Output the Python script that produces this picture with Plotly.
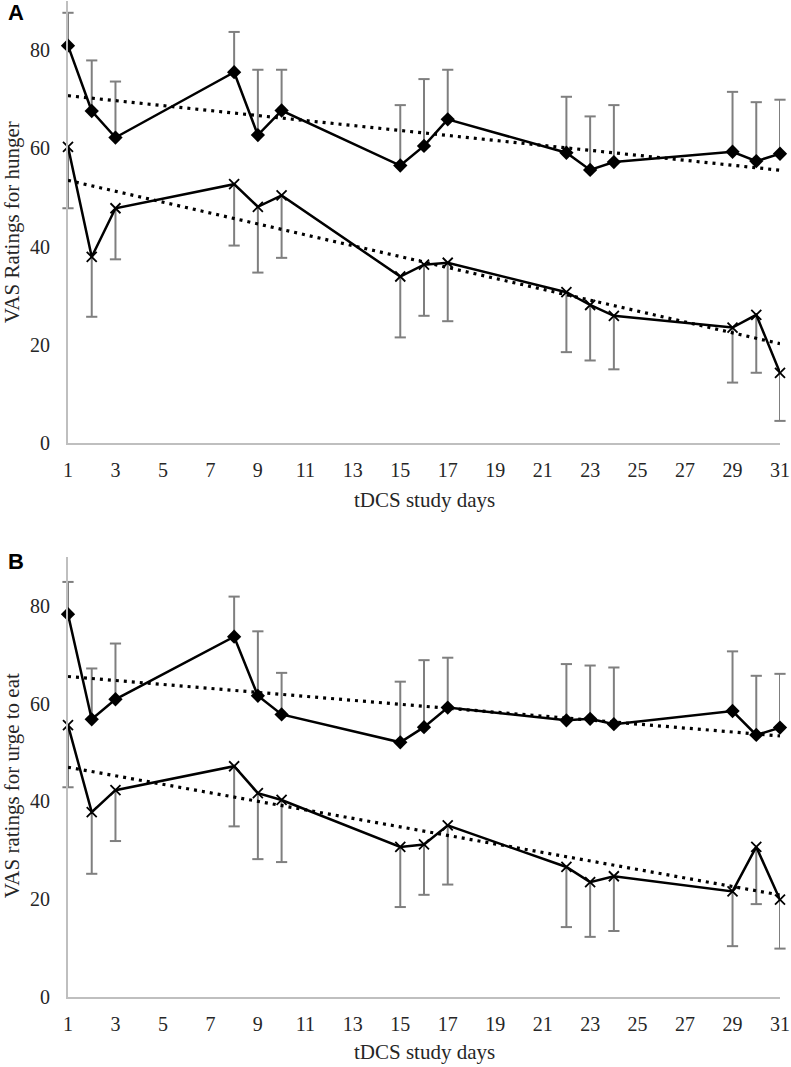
import numpy as np
import plotly.graph_objects as go

# ---------------- data ----------------
days = [1, 2, 3, 8, 9, 10, 15, 16, 17, 22, 23, 24, 29, 30, 31]
x_ticks = list(range(1, 32, 2))
y_ticks = [0, 20, 40, 60, 80]

# Panel A: VAS ratings for hunger
hunger_diamond = [80.9, 67.6, 62.2, 75.5, 62.7, 67.7, 56.5, 60.5, 65.9, 59.1, 55.6, 57.2, 59.3, 57.4, 58.9]
hunger_diamond_err = [6.7, 10.3, 11.4, 8.2, 13.3, 8.3, 12.3, 13.6, 10.1, 11.4, 10.9, 11.6, 12.2, 12.0, 11.0]
hunger_cross = [60.3, 37.9, 47.8, 52.7, 48.1, 50.4, 33.9, 36.3, 36.7, 30.7, 28.1, 25.9, 23.5, 26.1, 14.3]
hunger_cross_err = [12.5, 12.2, 10.4, 12.5, 13.4, 12.7, 12.4, 10.4, 11.9, 12.2, 11.3, 10.9, 11.2, 11.8, 9.8]

# Panel B: VAS ratings for urge to eat
urge_diamond = [78.3, 56.8, 60.9, 73.7, 61.6, 57.8, 52.1, 55.2, 59.2, 56.6, 56.9, 55.8, 58.5, 53.6, 55.1]
urge_diamond_err = [6.6, 10.4, 11.4, 8.2, 13.2, 8.5, 12.4, 13.7, 10.2, 11.5, 10.9, 11.6, 12.2, 12.1, 11.0]
urge_cross = [55.6, 37.8, 42.3, 47.2, 41.7, 40.3, 30.7, 31.2, 35.1, 26.6, 23.5, 24.7, 21.6, 30.7, 19.9]
urge_cross_err = [12.7, 12.6, 10.4, 12.3, 13.5, 12.7, 12.3, 10.3, 12.1, 12.3, 11.2, 11.2, 11.2, 11.7, 10.0]

panel_labels = ["A", "B"]
y_titles = ["VAS Ratings for hunger", "VAS ratings for urge to eat"]
x_title = "tDCS study days"

# ---------------- style ----------------
SERIF = "Liberation Serif, Times New Roman, serif"
ERR_COLOR = "#7f7f7f"
AXIS_COLOR = "#bfbfbf"

fig = go.Figure()


def add_series(xa, ya, values, errs, kind):
    v = np.array(values)
    e = np.array(errs)
    zeros = [0] * len(values)
    if kind == "diamond":
        ey = dict(type="data", symmetric=False, array=list(e), arrayminus=zeros,
                  color=ERR_COLOR, thickness=2, width=0)
        caps = v + e
    else:
        ey = dict(type="data", symmetric=False, array=zeros, arrayminus=list(e),
                  color=ERR_COLOR, thickness=2, width=0)
        caps = v - e
    # vertical error lines
    fig.add_trace(go.Scatter(x=days, y=values, mode="markers", xaxis=xa, yaxis=ya,
                             marker=dict(size=1, color="rgba(0,0,0,0)"),
                             error_y=ey, showlegend=False, hoverinfo="skip",
                             cliponaxis=False))
    # error caps
    fig.add_trace(go.Scatter(x=days, y=list(caps), mode="markers", xaxis=xa, yaxis=ya,
                             marker=dict(symbol="line-ew", size=8,
                                         line=dict(width=2, color=ERR_COLOR)),
                             showlegend=False, hoverinfo="skip", cliponaxis=False))
    # linear trend line
    slope, intercept = np.polyfit(days, values, 1)
    tx = [days[0], days[-1]]
    ty = [slope * t + intercept for t in tx]
    fig.add_trace(go.Scatter(x=tx, y=ty, mode="lines", xaxis=xa, yaxis=ya,
                             line=dict(color="black", width=3.2, dash="3px,5px"),
                             showlegend=False, hoverinfo="skip"))
    # data line
    if kind == "diamond":
        mk = dict(symbol="diamond", size=11, color="black")
    else:
        mk = dict(symbol="x-thin", size=10, color="black",
                  line=dict(width=1.8, color="black"))
    fig.add_trace(go.Scatter(x=days, y=values, mode="lines+markers", xaxis=xa, yaxis=ya,
                             line=dict(color="black", width=2.5), marker=mk,
                             showlegend=False, cliponaxis=False))


add_series("x", "y", hunger_diamond, hunger_diamond_err, "diamond")
add_series("x", "y", hunger_cross, hunger_cross_err, "cross")
add_series("x2", "y2", urge_diamond, urge_diamond_err, "diamond")
add_series("x2", "y2", urge_cross, urge_cross_err, "cross")

W, H = 791, 1067
ML, MR, MT, MB = 68, 9, 1, 70
plot_w = W - ML - MR
plot_h = H - MT - MB


def py(pix):
    return (H - MB - pix) / plot_h


def px(pix):
    return (pix - ML) / plot_w


xaxis_common = dict(range=[1, 31], tickmode="array", tickvals=x_ticks,
                    ticktext=[str(t) for t in x_ticks],
                    showline=True, linecolor=AXIS_COLOR, linewidth=2,
                    showgrid=False, zeroline=False, ticklabeloverflow="allow",
                    ticks="outside", ticklen=8, tickcolor="rgba(0,0,0,0)",
                    tickfont=dict(family=SERIF, size=20, color="#262626"))
yaxis_common = dict(range=[0, 90], tickmode="array", tickvals=y_ticks,
                    showline=True, linecolor=AXIS_COLOR, linewidth=2,
                    showgrid=False, zeroline=False,
                    ticks="outside", ticklen=12, tickcolor="rgba(0,0,0,0)",
                    tickfont=dict(family=SERIF, size=20, color="#262626"))

top_dom = [py(443), 1.0]
bot_dom = [0.0, py(557)]

fig.update_layout(
    width=W, height=H,
    margin=dict(l=ML, r=MR, t=MT, b=MB),
    paper_bgcolor="white", plot_bgcolor="white",
    xaxis=dict(xaxis_common, anchor="y"),
    yaxis=dict(yaxis_common, domain=top_dom, anchor="x"),
    xaxis2=dict(xaxis_common, anchor="y2"),
    yaxis2=dict(yaxis_common, domain=bot_dom, anchor="x2"),
)

annotations = []
for i, (lab, ytitle) in enumerate(zip(panel_labels, y_titles)):
    top_pix = 12 if i == 0 else 561
    annotations.append(dict(text="<b>" + lab + "</b>", x=px(16), y=py(top_pix), xref="paper",
                            yref="paper", xanchor="center", yanchor="middle", showarrow=False,
                            font=dict(family="Liberation Sans, Arial, sans-serif", size=22,
                                      color="black")))
    ycen = 222 if i == 0 else 786
    annotations.append(dict(text=ytitle, x=px(12), y=py(ycen), xref="paper", yref="paper",
                            xanchor="center", yanchor="middle", showarrow=False, textangle=-90,
                            font=dict(family=SERIF, size=21, color="#262626")))
    xcen = 500 if i == 0 else 1052
    annotations.append(dict(text=x_title, x=px(425), y=py(xcen), xref="paper", yref="paper",
                            xanchor="center", yanchor="middle", showarrow=False,
                            font=dict(family=SERIF, size=21, color="#262626")))
fig.update_layout(annotations=annotations)

fig.write_html("out.html", config={"displayModeBar": False},
               post_script="document.body.style.margin='0';document.body.style.padding='0';"
                           "document.body.style.overflow='hidden';")
